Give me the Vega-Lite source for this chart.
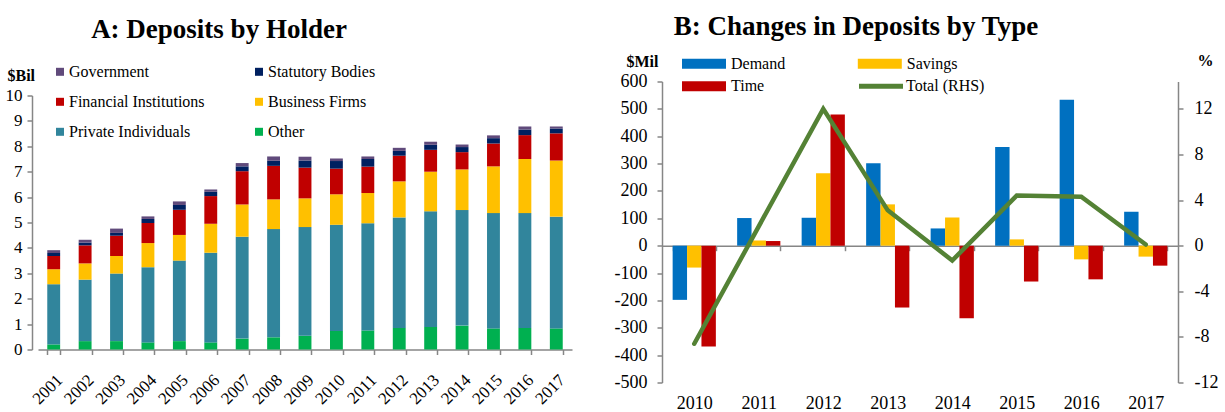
{
  "$schema": "https://vega.github.io/schema/vega-lite/v6.json",
  "autosize": {"type": "pad"},
  "padding": {"left": 5, "top": 12.5, "right": 0, "bottom": 0},
  "spacing": 42,
  "background": "#ffffff",
  "config": {
    "font": "Liberation Serif",
    "view": {"stroke": null},
    "locale": {"number": {"decimal": ".", "thousands": ",", "grouping": [3], "currency": ["$", ""], "minus": "-"}},
    "axis": {
      "labelFont": "Liberation Serif",
      "labelFontSize": 18,
      "labelColor": "#000000",
      "domainColor": "#868686",
      "tickColor": "#868686",
      "domainWidth": 1.5,
      "tickWidth": 1.5,
      "tickSize": 5,
      "grid": false,
      "titleFont": "Liberation Serif",
      "titleColor": "#000000"
    },
    "legend": {
      "labelFont": "Liberation Serif",
      "labelFontSize": 16,
      "labelColor": "#000000",
      "padding": 0,
      "title": null
    },
    "title": {"font": "Liberation Serif", "fontSize": 27, "fontWeight": "bold", "color": "#000000"}
  },
  "datasets": {
    "holders": [
      {"year": "2001", "holder": "Other", "value": 0.20},
      {"year": "2001", "holder": "Private Individuals", "value": 2.37},
      {"year": "2001", "holder": "Business Firms", "value": 0.59},
      {"year": "2001", "holder": "Financial Institutions", "value": 0.52},
      {"year": "2001", "holder": "Statutory Bodies", "value": 0.12},
      {"year": "2001", "holder": "Government", "value": 0.11},
      {"year": "2002", "holder": "Other", "value": 0.33},
      {"year": "2002", "holder": "Private Individuals", "value": 2.42},
      {"year": "2002", "holder": "Business Firms", "value": 0.64},
      {"year": "2002", "holder": "Financial Institutions", "value": 0.71},
      {"year": "2002", "holder": "Statutory Bodies", "value": 0.11},
      {"year": "2002", "holder": "Government", "value": 0.11},
      {"year": "2003", "holder": "Other", "value": 0.33},
      {"year": "2003", "holder": "Private Individuals", "value": 2.66},
      {"year": "2003", "holder": "Business Firms", "value": 0.69},
      {"year": "2003", "holder": "Financial Institutions", "value": 0.80},
      {"year": "2003", "holder": "Statutory Bodies", "value": 0.11},
      {"year": "2003", "holder": "Government", "value": 0.17},
      {"year": "2004", "holder": "Other", "value": 0.28},
      {"year": "2004", "holder": "Private Individuals", "value": 2.96},
      {"year": "2004", "holder": "Business Firms", "value": 0.95},
      {"year": "2004", "holder": "Financial Institutions", "value": 0.79},
      {"year": "2004", "holder": "Statutory Bodies", "value": 0.16},
      {"year": "2004", "holder": "Government", "value": 0.10},
      {"year": "2005", "holder": "Other", "value": 0.33},
      {"year": "2005", "holder": "Private Individuals", "value": 3.17},
      {"year": "2005", "holder": "Business Firms", "value": 1.01},
      {"year": "2005", "holder": "Financial Institutions", "value": 0.99},
      {"year": "2005", "holder": "Statutory Bodies", "value": 0.19},
      {"year": "2005", "holder": "Government", "value": 0.14},
      {"year": "2006", "holder": "Other", "value": 0.28},
      {"year": "2006", "holder": "Private Individuals", "value": 3.53},
      {"year": "2006", "holder": "Business Firms", "value": 1.14},
      {"year": "2006", "holder": "Financial Institutions", "value": 1.09},
      {"year": "2006", "holder": "Statutory Bodies", "value": 0.17},
      {"year": "2006", "holder": "Government", "value": 0.09},
      {"year": "2007", "holder": "Other", "value": 0.43},
      {"year": "2007", "holder": "Private Individuals", "value": 4.01},
      {"year": "2007", "holder": "Business Firms", "value": 1.27},
      {"year": "2007", "holder": "Financial Institutions", "value": 1.31},
      {"year": "2007", "holder": "Statutory Bodies", "value": 0.19},
      {"year": "2007", "holder": "Government", "value": 0.13},
      {"year": "2008", "holder": "Other", "value": 0.48},
      {"year": "2008", "holder": "Private Individuals", "value": 4.26},
      {"year": "2008", "holder": "Business Firms", "value": 1.17},
      {"year": "2008", "holder": "Financial Institutions", "value": 1.32},
      {"year": "2008", "holder": "Statutory Bodies", "value": 0.20},
      {"year": "2008", "holder": "Government", "value": 0.17},
      {"year": "2009", "holder": "Other", "value": 0.54},
      {"year": "2009", "holder": "Private Individuals", "value": 4.28},
      {"year": "2009", "holder": "Business Firms", "value": 1.13},
      {"year": "2009", "holder": "Financial Institutions", "value": 1.21},
      {"year": "2009", "holder": "Statutory Bodies", "value": 0.28},
      {"year": "2009", "holder": "Government", "value": 0.15},
      {"year": "2010", "holder": "Other", "value": 0.73},
      {"year": "2010", "holder": "Private Individuals", "value": 4.18},
      {"year": "2010", "holder": "Business Firms", "value": 1.20},
      {"year": "2010", "holder": "Financial Institutions", "value": 1.01},
      {"year": "2010", "holder": "Statutory Bodies", "value": 0.30},
      {"year": "2010", "holder": "Government", "value": 0.10},
      {"year": "2011", "holder": "Other", "value": 0.75},
      {"year": "2011", "holder": "Private Individuals", "value": 4.22},
      {"year": "2011", "holder": "Business Firms", "value": 1.19},
      {"year": "2011", "holder": "Financial Institutions", "value": 1.04},
      {"year": "2011", "holder": "Statutory Bodies", "value": 0.30},
      {"year": "2011", "holder": "Government", "value": 0.10},
      {"year": "2012", "holder": "Other", "value": 0.85},
      {"year": "2012", "holder": "Private Individuals", "value": 4.35},
      {"year": "2012", "holder": "Business Firms", "value": 1.42},
      {"year": "2012", "holder": "Financial Institutions", "value": 1.01},
      {"year": "2012", "holder": "Statutory Bodies", "value": 0.19},
      {"year": "2012", "holder": "Government", "value": 0.12},
      {"year": "2013", "holder": "Other", "value": 0.89},
      {"year": "2013", "holder": "Private Individuals", "value": 4.55},
      {"year": "2013", "holder": "Business Firms", "value": 1.56},
      {"year": "2013", "holder": "Financial Institutions", "value": 0.86},
      {"year": "2013", "holder": "Statutory Bodies", "value": 0.20},
      {"year": "2013", "holder": "Government", "value": 0.12},
      {"year": "2014", "holder": "Other", "value": 0.94},
      {"year": "2014", "holder": "Private Individuals", "value": 4.55},
      {"year": "2014", "holder": "Business Firms", "value": 1.60},
      {"year": "2014", "holder": "Financial Institutions", "value": 0.68},
      {"year": "2014", "holder": "Statutory Bodies", "value": 0.20},
      {"year": "2014", "holder": "Government", "value": 0.10},
      {"year": "2015", "holder": "Other", "value": 0.83},
      {"year": "2015", "holder": "Private Individuals", "value": 4.54},
      {"year": "2015", "holder": "Business Firms", "value": 1.84},
      {"year": "2015", "holder": "Financial Institutions", "value": 0.90},
      {"year": "2015", "holder": "Statutory Bodies", "value": 0.21},
      {"year": "2015", "holder": "Government", "value": 0.11},
      {"year": "2016", "holder": "Other", "value": 0.85},
      {"year": "2016", "holder": "Private Individuals", "value": 4.52},
      {"year": "2016", "holder": "Business Firms", "value": 2.13},
      {"year": "2016", "holder": "Financial Institutions", "value": 0.94},
      {"year": "2016", "holder": "Statutory Bodies", "value": 0.22},
      {"year": "2016", "holder": "Government", "value": 0.12},
      {"year": "2017", "holder": "Other", "value": 0.83},
      {"year": "2017", "holder": "Private Individuals", "value": 4.40},
      {"year": "2017", "holder": "Business Firms", "value": 2.21},
      {"year": "2017", "holder": "Financial Institutions", "value": 1.07},
      {"year": "2017", "holder": "Statutory Bodies", "value": 0.19},
      {"year": "2017", "holder": "Government", "value": 0.08}
    ],
    "stackOrder": [
      {"holder": "Other", "rank": 1},
      {"holder": "Private Individuals", "rank": 2},
      {"holder": "Business Firms", "rank": 3},
      {"holder": "Financial Institutions", "rank": 4},
      {"holder": "Statutory Bodies", "rank": 5},
      {"holder": "Government", "rank": 6}
    ],
    "changes": [
      {"year": "2010", "type": "Demand", "value": -198},
      {"year": "2010", "type": "Savings", "value": -80},
      {"year": "2010", "type": "Time", "value": -368},
      {"year": "2011", "type": "Demand", "value": 101},
      {"year": "2011", "type": "Savings", "value": 19},
      {"year": "2011", "type": "Time", "value": 17},
      {"year": "2012", "type": "Demand", "value": 102},
      {"year": "2012", "type": "Savings", "value": 265},
      {"year": "2012", "type": "Time", "value": 479},
      {"year": "2013", "type": "Demand", "value": 301},
      {"year": "2013", "type": "Savings", "value": 151},
      {"year": "2013", "type": "Time", "value": -226},
      {"year": "2014", "type": "Demand", "value": 63},
      {"year": "2014", "type": "Savings", "value": 103},
      {"year": "2014", "type": "Time", "value": -265},
      {"year": "2015", "type": "Demand", "value": 361},
      {"year": "2015", "type": "Savings", "value": 23},
      {"year": "2015", "type": "Time", "value": -131},
      {"year": "2016", "type": "Demand", "value": 533},
      {"year": "2016", "type": "Savings", "value": -50},
      {"year": "2016", "type": "Time", "value": -123},
      {"year": "2017", "type": "Demand", "value": 124},
      {"year": "2017", "type": "Savings", "value": -40},
      {"year": "2017", "type": "Time", "value": -73}
    ],
    "totals": [
      {"year": "2010", "total": -8.6},
      {"year": "2011", "total": 1.7},
      {"year": "2012", "total": 12.0},
      {"year": "2013", "total": 3.1},
      {"year": "2014", "total": -1.3},
      {"year": "2015", "total": 4.4},
      {"year": "2016", "total": 4.3},
      {"year": "2017", "total": 0.1}
    ]
  },
  "hconcat": [
    {
      "width": 534,
      "height": 268,
      "title": {"text": "A: Deposits by Holder", "dx": -86, "offset": 23.5},
      "data": {"name": "holders"},
      "transform": [
        {"lookup": "holder", "from": {"data": {"name": "stackOrder"}, "key": "holder", "fields": ["rank"]}}
      ],
      "mark": {"type": "bar"},
      "encoding": {
        "x": {
          "field": "year",
          "type": "ordinal",
          "scale": {"paddingInner": 0.59, "paddingOuter": 0.295},
          "axis": {"title": null, "labelAngle": -45, "labelFontSize": 17, "tickBand": "extent", "labelPadding": 17}
        },
        "y": {
          "field": "value",
          "type": "quantitative",
          "stack": "zero",
          "scale": {"domain": [0, 10.551], "nice": false},
          "axis": {
            "values": [0, 1, 2, 3, 4, 5, 6, 7, 8, 9, 10],
            "offset": 6,
            "domainDash": [254, 60],
            "labelPadding": 5,
            "labelFontSize": 17,
            "title": "$Bil",
            "titleAngle": 0,
            "titleFontSize": 16,
            "titleFontWeight": "bold",
            "titleAlign": "left",
            "titleBaseline": "alphabetic",
            "titleX": -25,
            "titleY": -1
          }
        },
        "color": {
          "field": "holder",
          "type": "nominal",
          "scale": {
            "domain": ["Government", "Statutory Bodies", "Financial Institutions", "Business Firms", "Private Individuals", "Other"],
            "range": ["#604A7B", "#002060", "#C00000", "#FFC000", "#31859C", "#00B050"]
          },
          "legend": {
            "orient": "none",
            "direction": "horizontal",
            "legendX": 14,
            "legendY": -17.7,
            "columns": 2,
            "columnPadding": 46,
            "rowPadding": 14,
            "symbolType": "square",
            "symbolSize": 64,
            "symbolStrokeWidth": 0,
            "labelOffset": 1
          }
        },
        "order": {"field": "rank", "type": "quantitative"}
      }
    },
    {
      "width": 516,
      "height": 301,
      "title": {"text": "B: Changes in Deposits by Type", "dx": -64, "offset": 11.5},
      "layer": [
        {
          "data": {"name": "changes"},
          "mark": {"type": "bar"},
          "encoding": {
            "x": {
              "field": "year",
              "type": "ordinal",
              "scale": {"paddingInner": 0.33, "paddingOuter": 0.165},
              "axis": {"title": null, "labelAngle": 0, "tickBand": "extent", "offset": -136.8, "labelPadding": 144}
            },
            "xOffset": {"field": "type", "type": "nominal", "sort": ["Demand", "Savings", "Time"]},
            "y": {
              "field": "value",
              "type": "quantitative",
              "scale": {"domain": [-500, 600], "nice": false},
              "axis": {
                "values": [-500, -400, -300, -200, -100, 0, 100, 200, 300, 400, 500, 600],
                "labelPadding": 10,
                "title": "$Mil",
                "titleAngle": 0,
                "titleFontSize": 16,
                "titleFontWeight": "bold",
                "titleAlign": "right",
                "titleBaseline": "alphabetic",
                "titleX": -4,
                "titleY": -15
              }
            },
            "color": {
              "field": "type",
              "type": "nominal",
              "scale": {"domain": ["Demand", "Savings", "Time"], "range": ["#0070C0", "#FFC000", "#C00000"]},
              "legend": {
                "orient": "none",
                "direction": "horizontal",
                "legendX": 34,
                "legendY": -25.7,
                "columns": 2,
                "columnPadding": 71.8,
                "rowPadding": 6.4,
                "symbolType": "M-4.4,-1H4.4V1H-4.4Z",
                "symbolSize": 100,
                "symbolStrokeWidth": 0,
                "labelOffset": 19
              }
            }
          }
        },
        {
          "data": {"name": "totals"},
          "mark": {"type": "line", "strokeWidth": 4.5, "strokeCap": "round"},
          "encoding": {
            "x": {
              "field": "year",
              "type": "ordinal",
              "scale": {"paddingInner": 0.33, "paddingOuter": 0.165},
              "axis": {"title": null, "labelAngle": 0, "tickBand": "extent", "offset": -136.8, "labelPadding": 144}
            },
            "y": {
              "field": "total",
              "type": "quantitative",
              "scale": {"domain": [-12, 14.4], "nice": false},
              "axis": {
                "orient": "right",
                "values": [-12, -8, -4, 0, 4, 8, 12],
                "labelPadding": 11,
                "title": "%",
                "titleAngle": 0,
                "titleFontSize": 16,
                "titleFontWeight": "bold",
                "titleAlign": "left",
                "titleBaseline": "alphabetic",
                "titleX": 19,
                "titleY": -16
              }
            },
            "color": {
              "datum": "Total (RHS)",
              "type": "nominal",
              "scale": {"domain": ["Total (RHS)"], "range": ["#548235"]},
              "legend": {
                "orient": "none",
                "legendX": 211,
                "legendY": -3.3,
                "symbolType": "M-4.4,0H4.4",
                "symbolSize": 100,
                "symbolStrokeWidth": 5,
                "labelOffset": 17
              }
            }
          }
        }
      ],
      "resolve": {"scale": {"y": "independent", "color": "independent"}}
    }
  ]
}
